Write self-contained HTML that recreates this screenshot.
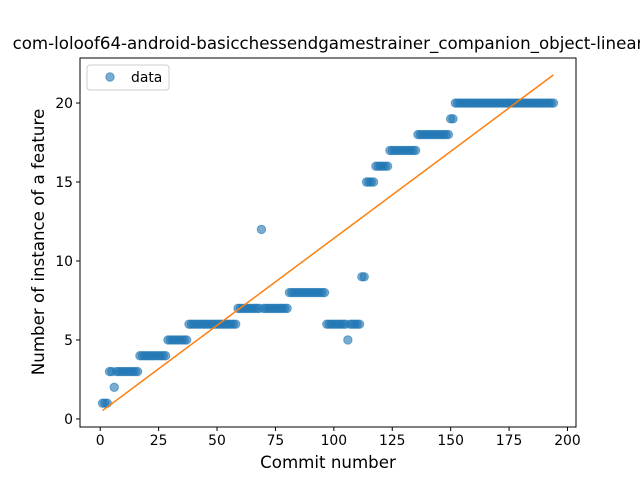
<!DOCTYPE html>
<html><head><meta charset="utf-8"><style>
body{margin:0;background:#fff}
svg{display:block;font-family:"DejaVu Sans","Liberation Sans",sans-serif}
</style></head><body>
<svg id="chart" width="640" height="480" viewBox="0 0 640 480" overflow="hidden">
<rect width="640" height="480" fill="#fff"/>
<text x="328" y="49" font-size="16.67" text-anchor="middle" fill="#000">com-loloof64-android-basicchessendgamestrainer_companion_object-linear</text>
<g id="plot"></g>
<rect x="80" y="58" width="496" height="369" fill="none" stroke="#000" stroke-width="1"/>
<g id="xt"></g><g id="yt"></g>
<text x="328" y="468" font-size="16.67" text-anchor="middle">Commit number</text>
<text transform="translate(44,242) rotate(-90)" font-size="16.67" text-anchor="middle">Number of instance of a feature</text>
<g>
<rect x="87" y="65" width="82" height="25" rx="3" fill="#fff" fill-opacity="0.8" stroke="#ccc"/>
<circle cx="110" cy="77" r="4.2" fill="#1f77b4" fill-opacity="0.6" stroke="#1f77b4" stroke-opacity="0.6"/>
<text x="131" y="82" font-size="13.9">data</text>
</g>
</svg>
<script>
// runs: [startCommit, endCommit, value]
const runStarts = [1,4,6,7,17,29,38,59,69,70,81,97,106,107,112,114,118,124,136,150,152];
const runEnds   = [3,5,6,16,28,37,58,68,69,80,96,105,106,111,113,117,123,135,149,151,194];
const runValues = [1,3,2,3,4,5,6,7,12,7,8,6,5,6,9,15,16,17,18,19,20];
const xTicks = [0,25,50,75,100,125,150,175,200];
const yTicks = [0,5,10,15,20];

const NS="http://www.w3.org/2000/svg";
const X0=80,X1=576,Y0=427,Y1=58;
const xmin=-8.65,xmax=203.65,ymin=-0.51,ymax=22.85;
const sx=v=>X0+(v-xmin)/(xmax-xmin)*(X1-X0);
const sy=v=>Y0-(v-ymin)/(ymax-ymin)*(Y0-Y1);
function mk(t,a,p){const e=document.createElementNS(NS,t);for(const k in a)e.setAttribute(k,a[k]);p.appendChild(e);return e;}
const plot=document.getElementById('plot');
const xs=[],ys=[];
for(let r=0;r<runStarts.length;r++){for(let c=runStarts[r];c<=runEnds[r];c++){xs.push(c);ys.push(runValues[r]);}}
for(let i=0;i<xs.length;i++){
  const c=mk('circle',{cx:sx(xs[i]),cy:sy(ys[i]),r:4.2,fill:'#1f77b4','fill-opacity':0.6,stroke:'#1f77b4','stroke-opacity':0.6},plot);
  
  
}
const n=xs.length;let mx=0,my=0;for(let i=0;i<n;i++){mx+=xs[i];my+=ys[i];}mx/=n;my/=n;
let sxy=0,sxx=0;for(let i=0;i<n;i++){sxy+=(xs[i]-mx)*(ys[i]-my);sxx+=(xs[i]-mx)**2;}
const b=sxy/sxx,a=my-b*mx;
const xa=xs[0],xb=xs[n-1];
const ln=mk('line',{x1:sx(xa),y1:sy(a+b*xa),x2:sx(xb),y2:sy(a+b*xb),stroke:'#ff7f0e','stroke-width':1.5},plot);


const xt=document.getElementById('xt'),yt=document.getElementById('yt');
xTicks.forEach(v=>{
  const l=mk('line',{x1:sx(v),x2:sx(v),y1:Y0,y2:Y0+4,stroke:'#000'},xt);
  
  
  const t=mk('text',{x:sx(v),y:Y0+18,'font-size':13.9,'text-anchor':'middle'},xt);t.textContent=v;
  
  
});
yTicks.forEach(v=>{
  const l=mk('line',{x1:X0-4,x2:X0,y1:sy(v),y2:sy(v),stroke:'#000'},yt);
  
  
  const t=mk('text',{x:X0-7,y:sy(v)+5,'font-size':13.9,'text-anchor':'end'},yt);t.textContent=v;
  
  
});
</script>
</body></html>
